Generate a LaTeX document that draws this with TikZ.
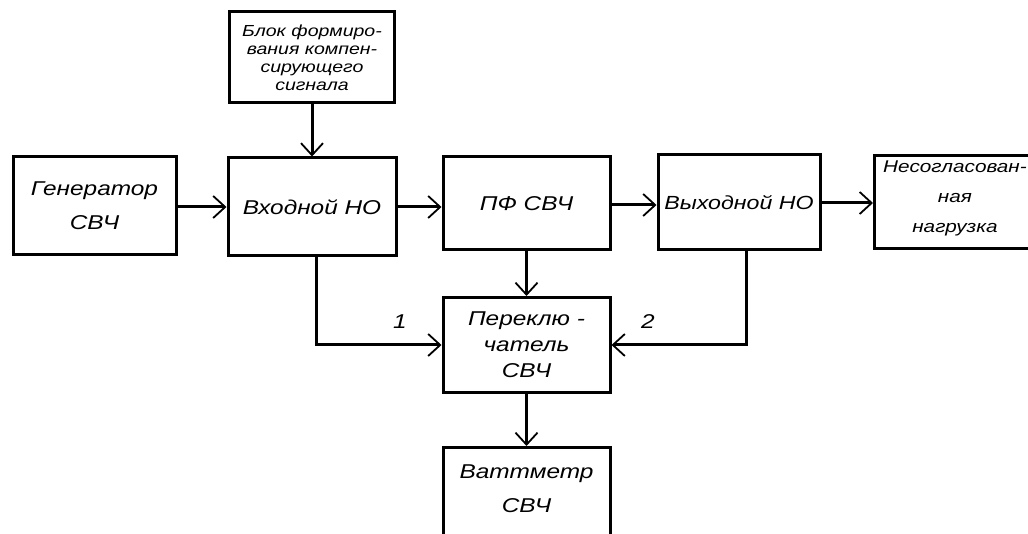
\documentclass[tikz,border=0pt]{standalone}
\usepackage{fontspec}
\setmainfont[FakeStretch=1.22]{Liberation Sans}
\usetikzlibrary{arrows.meta}
\begin{document}
\begin{tikzpicture}[x=1pt,y=-1pt,
  box/.style={draw=black, line width=3pt, rectangle, inner sep=0pt, align=center},
  conn/.style={line width=3pt, -{Straight Barb[length=12pt,width=22pt,line width=1.8pt]}},
  lbl/.style={font=\itshape\fontsize{20}{24}\selectfont},
  every node/.style={font=\itshape\fontsize{20}{34}\selectfont}]
\useasboundingbox (0,0) rectangle (1028,534);
\clip (0,0) rectangle (1028,534);
\fill[white] (0,0) rectangle (1028,534);
\node[box, minimum width=165pt, minimum height=91pt, font=\itshape\fontsize{16}{18}\selectfont] (blk) at (312,57.5) {Блок формиро-\\вания компен-\\сирующего\\сигнала};
\node[box, minimum width=163pt, minimum height=98pt] (gen) at (94.5,206) {Генератор\\СВЧ};
\node[box, minimum width=168pt, minimum height=98pt] (vin) at (312,207) {Входной НО};
\node[box, minimum width=167pt, minimum height=93pt] (pf) at (526.5,203.5) {ПФ СВЧ};
\node[box, minimum width=162pt, minimum height=95pt, font=\itshape\fontsize{19}{24}\selectfont] (vout) at (739,202.5) {Выходной НО};
\node[box, minimum width=167pt, minimum height=93pt, anchor=west] (load) at (873,202) {};
\node[anchor=north, align=center, font=\itshape\fontsize{17}{30}\selectfont] (loadtxt) at (955,157) {Несогласован-\\ная\\нагрузка};
\node[box, minimum width=167pt, minimum height=95pt, font=\itshape\fontsize{20}{26}\selectfont] (sw) at (526.5,345) {Переклю -\\чатель\\СВЧ};
\node[box, minimum width=167pt, minimum height=99pt, anchor=north] (wm) at (526.5,446) {};
\node[anchor=north, align=center] (wmtxt) at (526.5,461) {Ваттметр\\СВЧ};
\coordinate (c1) at (316,345);
\coordinate (c2) at (746,345);
\draw[conn] (blk.south) -- (vin.north);
\draw[conn] (gen.east |- 0,207) -- (vin.west |- 0,207);
\draw[conn] (vin.east |- 0,207) -- (pf.west |- 0,207);
\draw[conn] (pf.east |- 0,205) -- (vout.west |- 0,205);
\draw[conn] (vout.east |- 0,203) -- (load.west |- 0,203);
\draw[conn] (pf.south) -- (sw.north);
\draw[conn] (vin.south -| c1) -- (c1) -- (sw.west |- c1);
\draw[conn] (vout.south -| c2) -- (c2) -- (sw.east |- c2);
\draw[conn] (sw.south) -- (wm.north);
\node[lbl] (l1) at (400,322) {1};
\node[lbl] (l2) at (648,322) {2};
\end{tikzpicture}
\end{document}
